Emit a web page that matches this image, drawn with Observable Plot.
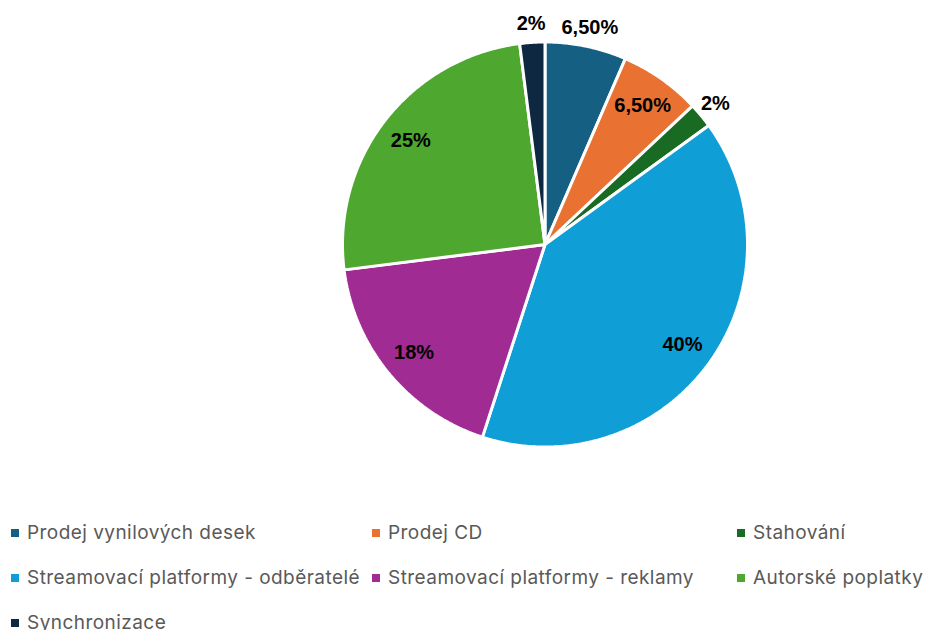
<!DOCTYPE html>
<html>
<head>
<meta charset="utf-8">
<script src="https://cdn.jsdelivr.net/npm/d3@7"></script>
<script src="https://cdn.jsdelivr.net/npm/@observablehq/plot@0.6"></script>
<style>
  html, body { margin: 0; padding: 0; background: #fff; }
  #chart svg { display: block; }
  #legend {
    display: grid;
    grid-template-columns: 361px 365px auto;
    padding-left: 11px;
    font-family: Inter, "Noto Sans", sans-serif;
    font-size: 19px;
    letter-spacing: 0.45px;
    color: #595959;
  }
  .item { height: 45px; display: flex; align-items: center; white-space: nowrap; }
  .sw { width: 8px; height: 8px; margin-right: 8px; flex: none; }
</style>
</head>
<body>
<div id="chart"></div>
<div id="legend"></div>
<script>
// Data
const categories = [
  "Prodej vynilových desek",
  "Prodej CD",
  "Stahování",
  "Streamovací platformy - odběratelé",
  "Streamovací platformy - reklamy",
  "Autorské poplatky",
  "Synchronizace"
];
const shares = [6.5, 6.5, 2, 40, 18, 25, 2];
const colors = ["#156082", "#E97132", "#196B24", "#0F9ED5", "#A02B93", "#4EA72E", "#0E2841"];
const labelPlacement = ["outside", "inside", "outside", "inside", "inside", "inside", "outside"];

// Layout
const W = 926, H = 510;
const cx = 544.5, cy = 244, R = 201;
const xDomain = [-cx / R, (W - cx) / R];
const yDomain = [-(H - cy) / R, cy / R];

const fmt = v => (Number.isInteger(v) ? String(v) : v.toFixed(2).replace(".", ",")) + "%";

const arcs = d3.pie().sort(null).value(d => d.value)
  .startAngle(0).endAngle(2 * Math.PI)(categories.map((name, i) => ({name, value: shares[i], i})));

const rOuter = 1 + 1.5 / R;
const slicePts = [];
for (const a of arcs) {
  const name = a.data.name;
  slicePts.push({name, x: 0, y: 0});
  const n = Math.max(2, Math.ceil((a.endAngle - a.startAngle) / (Math.PI / 360)));
  for (let k = 0; k <= n; k++) {
    const t = a.startAngle + (a.endAngle - a.startAngle) * k / n;
    slicePts.push({name, x: rOuter * Math.sin(t), y: rOuter * Math.cos(t)});
  }
}

const labels = arcs.map(a => {
  const mid = (a.startAngle + a.endAngle) / 2;
  const inside = labelPlacement[a.data.i] === "inside";
  const r = inside ? 0.845 : 1.1;
  return {x: r * Math.sin(mid), y: r * Math.cos(mid), text: fmt(a.data.value)};
});

const chart = Plot.plot({
  width: W,
  height: H,
  margin: 0,
  x: {domain: xDomain, axis: null},
  y: {domain: yDomain, axis: null},
  color: {domain: categories, range: colors},
  marks: [
    Plot.line(slicePts, {x: "x", y: "y", z: "name", fill: "name", stroke: "white", strokeWidth: 3, strokeLinejoin: "miter", curve: "linear-closed"}),
    Plot.text(labels, {x: "x", y: "y", text: "text", fontSize: 20, fontWeight: "bold", fill: "black", fontFamily: "Liberation Sans, Arial, sans-serif"})
  ]
});
document.getElementById("chart").appendChild(chart);

const legend = document.getElementById("legend");
categories.forEach((c, i) => {
  const it = document.createElement("div");
  it.className = "item";
  const sw = document.createElement("span");
  sw.className = "sw";
  sw.style.background = colors[i];
  it.appendChild(sw);
  it.appendChild(document.createTextNode(c));
  legend.appendChild(it);
});
</script>
</body>
</html>
